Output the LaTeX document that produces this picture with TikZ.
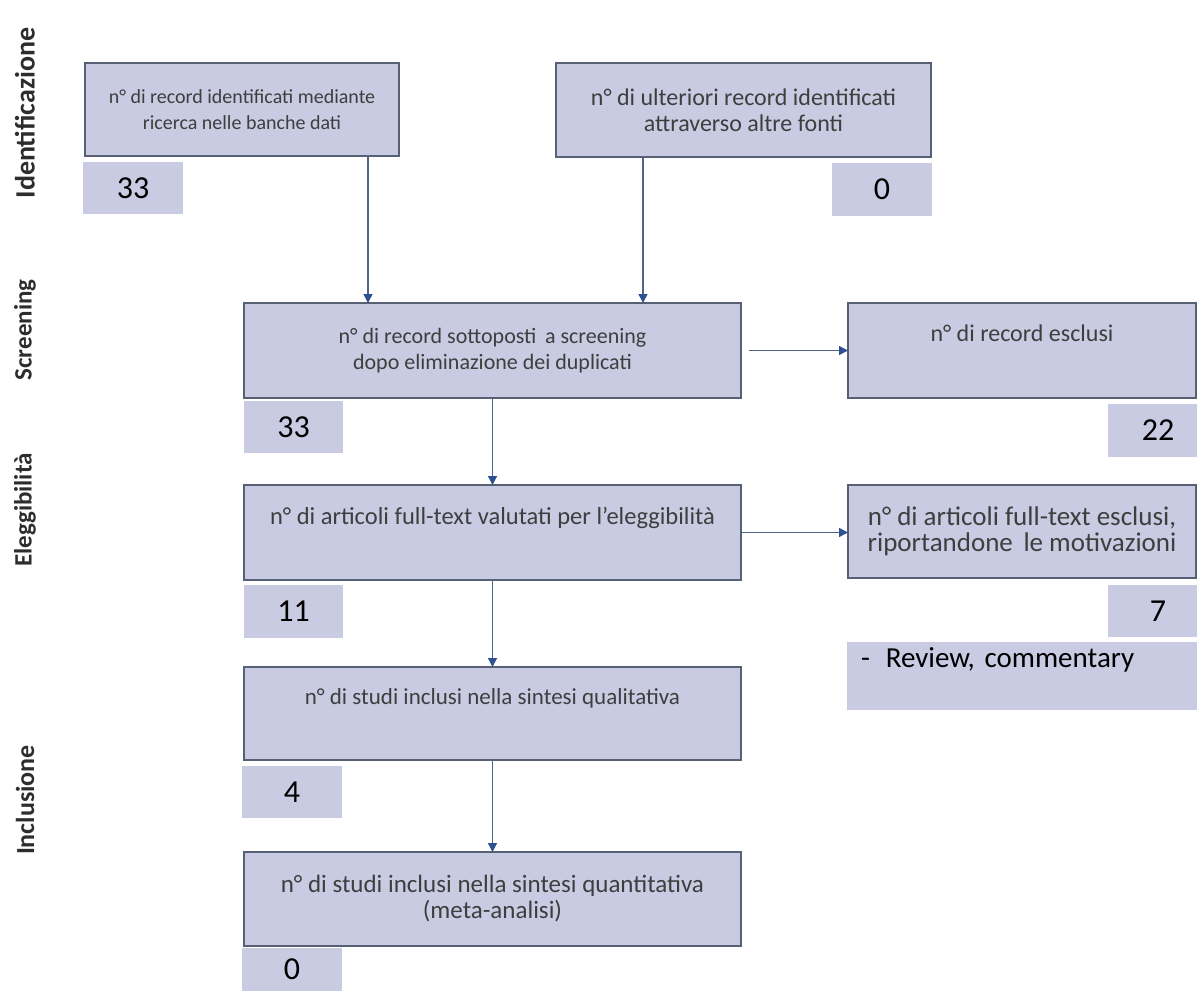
\documentclass[tikz,border=0pt]{standalone}
\usepackage{fontspec}
\setmainfont{Carlito}
\usepackage{tikz}
\usetikzlibrary{positioning, arrows.meta, calc}
\definecolor{boxfill}{RGB}{201,203,226}
\definecolor{boxline}{RGB}{88,96,118}
\definecolor{flowline}{RGB}{80,100,135}
\definecolor{tipblue}{RGB}{44,82,148}
\definecolor{boxtext}{RGB}{62,62,62}
\definecolor{phasetext}{RGB}{45,45,45}
\newcommand{\boxfont}[1]{\fontsize{#1}{26}\selectfont}

\begin{document}
\begin{tikzpicture}[
    x=1pt, y=-1pt,
    every node/.style={inner sep=0pt, outer sep=0pt},
    flowbox/.style={draw=boxline, line width=1.3pt, fill=boxfill, rectangle, align=center, text=boxtext},
    num/.style={fill=boxfill, rectangle, minimum width=100pt, minimum height=52pt, font=\fontsize{32}{34}\selectfont},
    phase/.style={rotate=90, text=phasetext},
    arrow/.style={-{Triangle[width=9pt, length=9pt, color=tipblue]}, line width=1.4pt, draw=flowline}
]
\useasboundingbox (0,0) rectangle (1197,995);

% phases
\node[phase, font=\fontsize{28}{30}\bfseries] (p1) at (25,113) {Identificazione};
\node[phase, font=\fontsize{25}{27}\bfseries] (p2) at (25,330) {Screening};
\node[phase, font=\fontsize{25}{27}\bfseries] (p3) at (25,510) {Eleggibilità};
\node[phase, font=\fontsize{26}{28}\bfseries] (p4) at (25,800) {Inclusione};

% boxes
\node[flowbox, font=\boxfont{20}, minimum width=314pt, minimum height=93pt] (1) at (242,109.5) {n° di record identificati mediante\\ricerca nelle banche dati};
\node[flowbox, font=\boxfont{24}, minimum width=375pt, minimum height=94pt] (2) at (743.5,110) {n° di ulteriori record identificati\\attraverso altre fonti};
\node[flowbox, font=\boxfont{22}, minimum width=497pt, minimum height=95pt] (3) at (492.5,350.5) {n° di record sottoposti\, a screening\\dopo eliminazione dei duplicati};
\node[flowbox, font=\boxfont{24}, minimum width=348pt, minimum height=95pt] (4) at (1022,350.5) {n° di record esclusi\\[8pt]\mbox{}};
\node[flowbox, font=\boxfont{24.5}, minimum width=497pt, minimum height=95pt] (5) at (492.5,532.5) {n° di articoli full-text valutati per l’eleggibilità\\[8pt]\mbox{}};
\node[flowbox, font=\boxfont{27}, minimum width=348pt, minimum height=93pt] (6) at (1022,531.5) {n° di articoli full-text esclusi,\\riportandone\, le motivazioni};
\node[flowbox, font=\boxfont{23}, minimum width=497pt, minimum height=93pt] (7) at (492.5,713.5) {n° di studi inclusi nella sintesi qualitativa\\[8pt]\mbox{}};
\node[flowbox, font=\boxfont{25}, minimum width=497pt, minimum height=94pt] (8) at (492.5,899) {n° di studi inclusi nella sintesi quantitativa\\(meta-analisi)};
\node[fill=boxfill, minimum width=360pt, minimum height=68pt, text width=332pt, align=left, font=\fontsize{29}{33}\selectfont] (9) at (1027,676) {-\hspace{0.55em}Review, commentary\\[4pt]\mbox{}};

% numbers
\node[num, below right=6pt and -2pt of 1.south west] (n1) {33};
\node[num, minimum height=53pt, below left=6pt and -1pt of 2.south east] (n2) {0};
\node[num, minimum width=99pt, below right=3pt and 0pt of 3.south west] (n3) {33};
\node[num, minimum height=53pt, below right=6pt and 260pt of 4.south west] (n4) {22};
\node[num, minimum width=99pt, minimum height=53pt, below right=5pt and 0pt of 5.south west] (n5) {11};
\node[num, below right=7pt and 260pt of 6.south west] (n6) {7};
\node[num, below right=6pt and -2pt of 7.south west] (n7) {4};
\node[num, minimum height=43pt, below right=2pt and -2pt of 8.south west] (n8) {0};

% connectors
\draw[arrow] ([xshift=126pt]1.south) -- ([xshift=126pt]1.south |- 3.north);
\draw[arrow] ([xshift=-100.5pt]2.south) -- ([xshift=-100.5pt]2.south |- 3.north);
\draw[arrow, shorten <=8pt] (3.east) -- (3.east -| 4.west);
\draw[arrow] (3) -- (5);
\draw[arrow] (5.east) -- (5.east -| 6.west);
\draw[arrow] (5) -- (7);
\draw[arrow] (7) -- (8);
\end{tikzpicture}
\end{document}
